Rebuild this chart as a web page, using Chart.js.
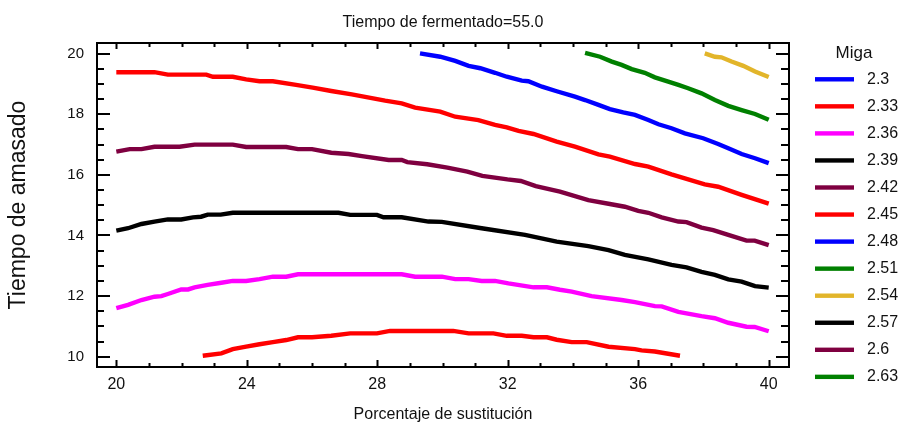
<!DOCTYPE html>
<html>
<head>
<meta charset="utf-8">
<script src="https://cdn.jsdelivr.net/npm/chart.js@4.4.1/dist/chart.umd.min.js"></script>
<style>
  body { margin: 0; background: #fff; }
</style>
</head>
<body>
<canvas id="chart" width="899" height="426"></canvas>
<script>
// contour levels (legend order) and tick labels
const levels = ["2.3", "2.33", "2.36", "2.39", "2.42", "2.45", "2.48", "2.51", "2.54", "2.57", "2.6", "2.63"];
const xTicks = [20, 24, 28, 32, 36, 40];
const yTicks = [10, 12, 14, 16, 18, 20];

// contour lines (x = sustitucion, y = amasado)
const x233 = [22.65, 23.22, 23.57, 23.98, 24.39, 24.8, 25.21, 25.57, 26.0, 26.59, 27.17, 27.99, 28.39, 30.33, 30.8, 31.56, 31.97, 32.43, 32.79, 33.2, 33.5, 33.96, 34.42, 35.09, 35.9, 36.1, 36.51, 37.28];
const y233 = [10.03, 10.11, 10.25, 10.33, 10.41, 10.48, 10.55, 10.64, 10.64, 10.69, 10.77, 10.77, 10.85, 10.85, 10.77, 10.77, 10.69, 10.69, 10.64, 10.64, 10.56, 10.48, 10.48, 10.33, 10.25, 10.21, 10.17, 10.03];

const x236 = [20, 20.36, 20.77, 21.17, 21.38, 21.58, 21.99, 22.2, 22.4, 22.8, 23.22, 23.57, 23.98, 24.39, 24.8, 25.21, 25.57, 28.75, 29.16, 29.98, 30.39, 30.8, 31.2, 31.61, 32.02, 32.79, 33.2, 33.6, 33.96, 34.57, 35.49, 35.9, 36.51, 36.72, 37.23, 37.94, 38.35, 38.76, 39.32, 39.57, 40];
const y236 = [11.6, 11.71, 11.87, 11.98, 12.0, 12.07, 12.22, 12.22, 12.29, 12.37, 12.44, 12.5, 12.5, 12.56, 12.64, 12.64, 12.72, 12.72, 12.64, 12.64, 12.56, 12.56, 12.5, 12.5, 12.42, 12.29, 12.29, 12.21, 12.15, 12.0, 11.87, 11.8, 11.67, 11.66, 11.48, 11.34, 11.27, 11.12, 10.99, 10.98, 10.84];

const x239 = [20, 20.36, 20.77, 21.17, 21.58, 21.99, 22.35, 22.6, 22.8, 23.2, 23.57, 26.81, 27.17, 27.99, 28.19, 28.75, 29.57, 29.98, 31.2, 32.53, 33.5, 34.47, 35.09, 35.59, 36.31, 37.02, 37.48, 37.94, 38.35, 38.76, 39.17, 39.58, 40];
const y239 = [14.16, 14.24, 14.38, 14.46, 14.53, 14.53, 14.6, 14.62, 14.69, 14.69, 14.75, 14.75, 14.68, 14.68, 14.6, 14.6, 14.46, 14.45, 14.24, 14.02, 13.8, 13.65, 13.52, 13.36, 13.21, 13.03, 12.95, 12.8, 12.7, 12.55, 12.48, 12.33, 12.28];

const x242 = [20, 20.41, 20.77, 21.17, 21.94, 22.4, 23.57, 23.98, 25.21, 25.57, 26.0, 26.59, 27.12, 27.53, 28.35, 28.75, 28.92, 29.53, 30.15, 30.76, 31.22, 31.99, 32.4, 32.86, 33.6, 34.47, 35.13, 35.59, 36.0, 36.31, 36.72, 37.23, 37.48, 37.94, 38.3, 38.76, 39.32, 39.57, 40];
const y242 = [16.77, 16.85, 16.85, 16.93, 16.93, 17.0, 17.0, 16.92, 16.92, 16.85, 16.85, 16.73, 16.69, 16.62, 16.49, 16.49, 16.42, 16.35, 16.24, 16.11, 15.97, 15.85, 15.8, 15.63, 15.45, 15.17, 15.04, 14.95, 14.81, 14.75, 14.6, 14.46, 14.44, 14.26, 14.18, 14.02, 13.83, 13.83, 13.68];

const x245 = [20, 21.17, 21.58, 22.76, 22.96, 23.57, 23.98, 24.39, 24.8, 25.51, 26.02, 26.59, 27.22, 28.24, 28.75, 29.16, 29.93, 30.39, 31.1, 31.61, 31.97, 32.33, 32.79, 33.5, 34.06, 34.78, 35.13, 35.9, 36.31, 37.02, 38.04, 38.45, 39.17, 40];
const y245 = [19.39, 19.39, 19.31, 19.31, 19.24, 19.24, 19.15, 19.09, 19.09, 18.97, 18.88, 18.77, 18.66, 18.45, 18.36, 18.22, 18.09, 17.92, 17.81, 17.65, 17.57, 17.45, 17.35, 17.1, 16.93, 16.68, 16.6, 16.36, 16.27, 16.02, 15.69, 15.61, 15.34, 15.05];

const x248 = [29.31, 29.93, 30.39, 30.8, 31.16, 31.61, 31.97, 32.43, 32.63, 33.05, 33.5, 34.06, 34.37, 34.78, 35.13, 35.54, 35.9, 36.31, 36.62, 37.02, 37.43, 37.99, 38.45, 38.76, 39.17, 39.58, 40];
const y248 = [20.01, 19.9, 19.76, 19.6, 19.52, 19.37, 19.24, 19.11, 19.09, 18.91, 18.76, 18.58, 18.47, 18.31, 18.17, 18.06, 17.98, 17.81, 17.67, 17.54, 17.37, 17.21, 17.02, 16.88, 16.69, 16.55, 16.39];

const x251 = [34.37, 34.83, 35.19, 35.49, 35.8, 36.2, 36.51, 36.92, 37.23, 37.53, 37.94, 38.35, 38.76, 39.17, 39.58, 40];
const y251 = [20.03, 19.9, 19.74, 19.63, 19.49, 19.37, 19.22, 19.08, 18.97, 18.86, 18.69, 18.47, 18.28, 18.14, 18.01, 17.82];

const x254 = [38.04, 38.35, 38.55, 38.86, 39.22, 39.58, 40];
const y254 = [20.01, 19.9, 19.88, 19.74, 19.6, 19.41, 19.23];

const lineColors = ["#0000ff", "#ff0000", "#ff00ff", "#000000", "#7f0040", "#ff0000",
                    "#0000ff", "#008000", "#e2b52a", "#000000", "#7f0040", "#008000"];

const FONT = '"Liberation Sans", Arial, sans-serif';
const TEXT = "#111";

function pts(xs, ys) {
  return xs.map((x, i) => ({ x: x, y: ys[i] }));
}

const lines = {
  "2.33": pts(x233, y233),
  "2.36": pts(x236, y236),
  "2.39": pts(x239, y239),
  "2.42": pts(x242, y242),
  "2.45": pts(x245, y245),
  "2.48": pts(x248, y248),
  "2.51": pts(x251, y251),
  "2.54": pts(x254, y254)
};

// frame with inward ticks on all four sides
const framePlugin = {
  id: "frame",
  afterDatasetsDraw(chart) {
    const { ctx, chartArea: a, scales: { x, y } } = chart;
    ctx.save();
    ctx.strokeStyle = "#000";
    ctx.lineWidth = 2;
    ctx.strokeRect(a.left, a.top, a.right - a.left, a.bottom - a.top);
    ctx.beginPath();
    for (let v = 20; v <= 40; v++) {
      const px = Math.round(x.getPixelForValue(v)) + 0.5;
      const big = xTicks.includes(v);
      ctx.moveTo(px, a.bottom); ctx.lineTo(px, a.bottom - (big ? 7 : 4));
      ctx.moveTo(px, a.top); ctx.lineTo(px, a.top + (big ? 6 : 4));
    }
    for (let v = 10; v <= 20; v += 0.5) {
      const py = Math.round(y.getPixelForValue(v));
      const big = yTicks.includes(v);
      ctx.moveTo(a.left, py); ctx.lineTo(a.left + (big ? 13 : 7), py);
      ctx.moveTo(a.right, py); ctx.lineTo(a.right - (big ? 13 : 8), py);
    }
    ctx.stroke();
    ctx.restore();
  }
};

// legend on the right: title "Miga" and one line sample per level
const legendPlugin = {
  id: "migaLegend",
  afterDraw(chart) {
    const { ctx, chartArea: a } = chart;
    const x0 = a.right + 26;
    ctx.save();
    ctx.fillStyle = TEXT;
    ctx.font = "17px " + FONT;
    ctx.textAlign = "center";
    ctx.textBaseline = "alphabetic";
    ctx.fillText("Miga", x0 + 39, 57.5);
    ctx.font = "16px " + FONT;
    ctx.textAlign = "left";
    chart.data.datasets.forEach((ds, i) => {
      const yc = 79.3 + 27.05 * i;
      ctx.fillStyle = ds.borderColor;
      ctx.fillRect(x0, yc - 2.2, 39, 4.4);
      ctx.fillStyle = TEXT;
      ctx.fillText(ds.label, x0 + 52, yc + 4.3);
    });
    ctx.restore();
  }
};

new Chart(document.getElementById("chart"), {
  type: "line",
  data: {
    datasets: levels.map((lv, i) => ({
      label: lv,
      data: lines[lv] || [],
      borderColor: lineColors[i],
      backgroundColor: lineColors[i],
      borderWidth: 4.4,
      pointRadius: 0,
      tension: 0,
      fill: false
    }))
  },
  options: {
    responsive: false,
    animation: false,
    layout: { padding: { left: 0, top: 0, right: 110, bottom: 0 } },
    plugins: {
      legend: { display: false },
      tooltip: { enabled: false },
      title: {
        display: true,
        text: "Tiempo de fermentado=55.0",
        fullSize: false,
        color: TEXT,
        font: { family: FONT, size: 16, weight: "normal" },
        padding: { top: 13.4, bottom: 10.4 }
      }
    },
    scales: {
      x: {
        type: "linear",
        min: 19.408,
        max: 40.622,
        grid: { display: false, drawTicks: false },
        border: { display: false },
        afterBuildTicks: (s) => { s.ticks = xTicks.map(v => ({ value: v })); },
        afterFit: (s) => { s.height = 59; },
        ticks: { color: TEXT, font: { family: FONT, size: 16 }, padding: 8, maxRotation: 0 },
        title: {
          display: true,
          text: "Porcentaje de sustitución",
          color: TEXT,
          font: { family: FONT, size: 16 },
          padding: { top: 0, bottom: 1.5 }
        }
      },
      y: {
        type: "linear",
        min: 9.66,
        max: 20.353,
        grid: { display: false, drawTicks: false },
        border: { display: false },
        afterBuildTicks: (s) => { s.ticks = yTicks.map(v => ({ value: v })); },
        afterFit: (s) => { s.width = 97; },
        ticks: { color: TEXT, font: { family: FONT, size: 15 }, padding: 13 },
        title: {
          display: true,
          text: "Tiempo de amasado",
          color: TEXT,
          font: { family: FONT, size: 23 },
          padding: { top: 5, bottom: 0 }
        }
      }
    }
  },
  plugins: [framePlugin, legendPlugin]
});
</script>
</body>
</html>
